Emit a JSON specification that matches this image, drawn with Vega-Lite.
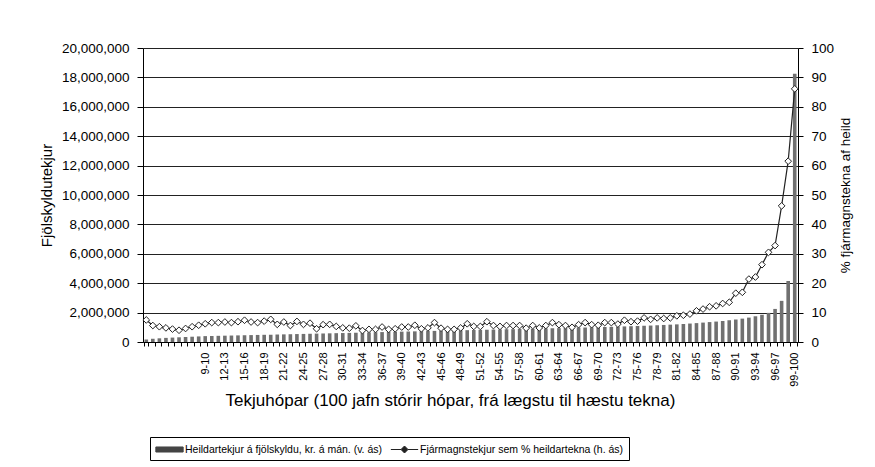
{
  "$schema": "https://vega.github.io/schema/vega-lite/v6.json",
  "autosize": "none",
  "width": 655,
  "height": 294,
  "padding": {"left": 143, "top": 48, "right": 77, "bottom": 125},
  "background": "white",
  "config": {"font": "Liberation Sans", "view": {"stroke": null}},
  "data": {"values": [
    {"h":"0-1","t":170000,"p":7.5},{"h":"1-2","t":220000,"p":5.6},{"h":"2-3","t":250000,"p":5.2},{"h":"3-4","t":280000,"p":4.8},{"h":"4-5","t":300000,"p":4.4},
    {"h":"5-6","t":320000,"p":4.0},{"h":"6-7","t":340000,"p":4.6},{"h":"7-8","t":360000,"p":5.2},{"h":"8-9","t":380000,"p":5.7},{"h":"9-10","t":400000,"p":6.2},
    {"h":"10-11","t":410000,"p":6.6},{"h":"11-12","t":420000,"p":6.6},{"h":"12-13","t":430000,"p":6.8},{"h":"13-14","t":440000,"p":6.6},{"h":"14-15","t":450000,"p":6.9},
    {"h":"15-16","t":460000,"p":7.4},{"h":"16-17","t":470000,"p":6.8},{"h":"17-18","t":480000,"p":6.6},{"h":"18-19","t":490000,"p":7.1},{"h":"19-20","t":500000,"p":7.7},
    {"h":"20-21","t":510000,"p":6.0},{"h":"21-22","t":520000,"p":6.8},{"h":"22-23","t":530000,"p":5.6},{"h":"23-24","t":540000,"p":7.0},{"h":"24-25","t":550000,"p":6.0},
    {"h":"25-26","t":560000,"p":6.4},{"h":"26-27","t":570000,"p":4.5},{"h":"27-28","t":580000,"p":5.9},{"h":"28-29","t":590000,"p":6.0},{"h":"29-30","t":600000,"p":5.3},
    {"h":"30-31","t":610000,"p":4.8},{"h":"31-32","t":620000,"p":4.7},{"h":"32-33","t":630000,"p":5.5},{"h":"33-34","t":640000,"p":3.9},{"h":"34-35","t":655000,"p":4.3},
    {"h":"35-36","t":665000,"p":4.3},{"h":"36-37","t":675000,"p":5.1},{"h":"37-38","t":685000,"p":4.3},{"h":"38-39","t":695000,"p":4.5},{"h":"39-40","t":705000,"p":5.1},
    {"h":"40-41","t":715000,"p":5.1},{"h":"41-42","t":725000,"p":5.7},{"h":"42-43","t":735000,"p":4.5},{"h":"43-44","t":745000,"p":4.8},{"h":"44-45","t":755000,"p":6.6},
    {"h":"45-46","t":765000,"p":4.7},{"h":"46-47","t":775000,"p":4.3},{"h":"47-48","t":785000,"p":4.3},{"h":"48-49","t":795000,"p":4.8},{"h":"49-50","t":805000,"p":6.2},
    {"h":"50-51","t":815000,"p":5.3},{"h":"51-52","t":825000,"p":5.3},{"h":"52-53","t":835000,"p":6.9},{"h":"53-54","t":845000,"p":5.6},{"h":"54-55","t":855000,"p":5.3},
    {"h":"55-56","t":865000,"p":5.6},{"h":"56-57","t":875000,"p":5.6},{"h":"57-58","t":885000,"p":5.6},{"h":"58-59","t":895000,"p":4.7},{"h":"59-60","t":905000,"p":5.6},
    {"h":"60-61","t":915000,"p":4.8},{"h":"61-62","t":925000,"p":5.6},{"h":"62-63","t":935000,"p":6.6},{"h":"63-64","t":945000,"p":5.9},{"h":"64-65","t":955000,"p":5.6},
    {"h":"65-66","t":965000,"p":5.0},{"h":"66-67","t":975000,"p":5.9},{"h":"67-68","t":985000,"p":6.6},{"h":"68-69","t":995000,"p":5.9},{"h":"69-70","t":1005000,"p":5.7},
    {"h":"70-71","t":1020000,"p":6.6},{"h":"71-72","t":1030000,"p":6.6},{"h":"72-73","t":1045000,"p":6.1},{"h":"73-74","t":1060000,"p":7.4},{"h":"74-75","t":1075000,"p":6.9},
    {"h":"75-76","t":1090000,"p":7.1},{"h":"76-77","t":1105000,"p":8.2},{"h":"77-78","t":1120000,"p":7.7},{"h":"78-79","t":1140000,"p":8.2},{"h":"79-80","t":1160000,"p":8.0},
    {"h":"80-81","t":1180000,"p":8.2},{"h":"81-82","t":1200000,"p":8.9},{"h":"82-83","t":1225000,"p":9.1},{"h":"83-84","t":1255000,"p":9.5},{"h":"84-85","t":1285000,"p":10.6},
    {"h":"85-86","t":1320000,"p":11.2},{"h":"86-87","t":1355000,"p":12.0},{"h":"87-88","t":1390000,"p":12.3},{"h":"88-89","t":1430000,"p":13.1},{"h":"89-90","t":1480000,"p":13.5},
    {"h":"90-91","t":1530000,"p":16.6},{"h":"91-92","t":1590000,"p":16.9},{"h":"92-93","t":1660000,"p":21.4},{"h":"93-94","t":1750000,"p":22.1},{"h":"94-95","t":1850000,"p":26.3},
    {"h":"95-96","t":1980000,"p":30.5},{"h":"96-97","t":2250000,"p":32.8},{"h":"97-98","t":2800000,"p":46.3},{"h":"98-99","t":4150000,"p":61.5},{"h":"99-100","t":18250000,"p":86.1}
  ]},
  "encoding": {
    "x": {
      "field": "h", "type": "nominal", "sort": null,
      "scale": {"paddingInner": 0.45, "paddingOuter": 0.225},
      "axis": {
        "title": "Tekjuhópar (100 jafn stórir hópar, frá lægstu til hæstu tekna)",
        "titleFontSize": 17, "titleFontWeight": "normal", "titleColor": "black", "titlePadding": 6, "titleX": 307,
        "labelAngle": 270, "labelFontSize": 11, "labelColor": "black", "labelPadding": 6,
        "labelExpr": "(toNumber(split(datum.label,'-')[0]) % 3 == 0 && toNumber(split(datum.label,'-')[0]) >= 9) ? datum.label : ''",
        "labelOverlap": false,
        "tickBand": "extent", "tickSize": 4, "tickColor": "black", "domainColor": "black", "grid": false
      }
    }
  },
  "layer": [
    {
      "mark": {"type": "bar", "fill": "#707070"},
      "encoding": {
        "y": {
          "field": "t", "type": "quantitative",
          "scale": {"domain": [0, 20000000], "nice": false},
          "axis": {
            "title": "Fjölskyldutekjur", "titleFontSize": 15, "titleFontWeight": "normal", "titleColor": "black", "titlePadding": 7,
            "values": [0,2000000,4000000,6000000,8000000,10000000,12000000,14000000,16000000,18000000,20000000],
            "format": ",d", "labelFontSize": 13.5, "labelColor": "black", "labelPadding": 8, "labelOverlap": false,
            "tickSize": 6, "tickColor": "black", "domainColor": "black",
            "grid": true, "gridColor": "#222222", "gridOpacity": 1, "gridWidth": 1
          }
        },
        "color": {
          "datum": "Heildartekjur á fjölskyldu, kr. á mán. (v. ás)",
          "scale": {"domain": ["Heildartekjur á fjölskyldu, kr. á mán. (v. ás)", "Fjármagnstekjur sem % heildartekna (h. ás)"], "range": ["#444444", "#222222"]},
          "legend": {
            "title": null, "orient": "none", "legendX": 7, "legendY": 389,
            "direction": "horizontal", "columns": 2, "columnPadding": 5,
            "strokeColor": "black", "padding": 5, "fillColor": "white",
            "labelFontSize": 10.5, "labelColor": "black", "labelOffset": 8, "labelLimit": 0,
            "symbolSize": 196, "symbolOffset": 7,
            "encode": {
              "symbols": {
                "update": {
                  "shape": {"signal": "datum.value === 'Heildartekjur á fjölskyldu, kr. á mán. (v. ás)' ? 'M-1.95,-0.36H1.95V0.36H-1.95Z' : 'M-1.95,0H-0.5M0.5,0H1.95M0,-0.5L0.5,0L0,0.5L-0.5,0Z'"},
                  "fill": {"signal": "datum.value === 'Heildartekjur á fjölskyldu, kr. á mán. (v. ás)' ? '#444444' : 'white'"},
                  "stroke": {"signal": "datum.value === 'Heildartekjur á fjölskyldu, kr. á mán. (v. ás)' ? '#444444' : '#222222'"},
                  "strokeWidth": {"value": 1},
                  "opacity": {"value": 1}
                }
              }
            }
          }
        }
      }
    },
    {
      "encoding": {
        "y": {
          "field": "p", "type": "quantitative",
          "scale": {"domain": [0, 100], "nice": false},
          "axis": {
            "orient": "right", "title": "% fjármagnstekna af heild", "titleAngle": 270,
            "titleFontSize": 13.5, "titleFontWeight": "normal", "titleColor": "black", "titlePadding": 19,
            "values": [0,10,20,30,40,50,60,70,80,90,100],
            "labelFontSize": 13.5, "labelColor": "black", "labelPadding": 8, "labelOverlap": false,
            "tickSize": 5, "tickColor": "black", "domainColor": "black", "grid": false
          }
        }
      },
      "layer": [
        {
          "mark": {"type": "line", "strokeWidth": 1.2},
          "encoding": {
            "color": {"datum": "Fjármagnstekjur sem % heildartekna (h. ás)"}
          }
        },
        {
          "mark": {"type": "point", "shape": "diamond", "filled": true, "fill": "white", "stroke": "#222222", "strokeWidth": 1, "size": 45, "opacity": 1},
          "encoding": {}
        }
      ]
    }
  ],
  "resolve": {"scale": {"y": "independent"}}
}
